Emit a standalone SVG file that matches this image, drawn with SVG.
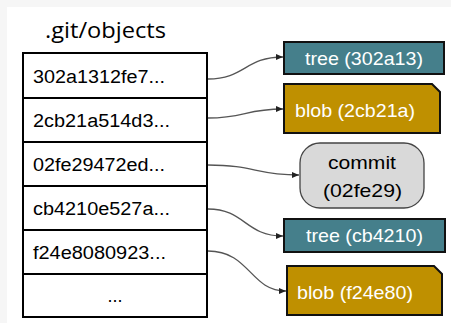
<svg xmlns="http://www.w3.org/2000/svg" width="451" height="323" viewBox="0 0 451 323">
<style>
.t{font-family:"Liberation Sans",Arial,sans-serif;font-size:18px;fill:#000}
.w{font-family:"Liberation Sans",Arial,sans-serif;font-size:19px;fill:#fff}
.k{font-family:"Liberation Sans",Arial,sans-serif;font-size:19px;fill:#000}
.row{fill:#fff;stroke:#000;stroke-width:2}
.tree{fill:#457f8b;stroke:#111;stroke-width:2}
.blob{fill:#bf9000;stroke:#111;stroke-width:2}
.c{fill:none;stroke:#555;stroke-width:1.3;marker-end:url(#a)}
</style>
<defs>
<marker id="a" markerWidth="8" markerHeight="8" refX="7" refY="4" orient="auto" markerUnits="userSpaceOnUse">
<path d="M0,1 L7,4 L0,7 Z" fill="#222"/>
</marker>
</defs>
<rect width="451" height="323" fill="#f6f6f6"/>
<rect x="7" y="7" width="444" height="316" fill="#fff"/>
<g id="title"><text x="45" y="38" textLength="121" lengthAdjust="spacingAndGlyphs" style="font-family:'Open Sans','Liberation Sans',sans-serif;font-size:22px;fill:#000">.git/objects</text></g>
<g id="table">
<rect class="row" x="23" y="53" width="184" height="45"/>
<rect class="row" x="23" y="98" width="184" height="44"/>
<rect class="row" x="23" y="142" width="184" height="44"/>
<rect class="row" x="23" y="186" width="184" height="44"/>
<rect class="row" x="23" y="230" width="184" height="44"/>
<rect class="row" x="23" y="274" width="184" height="43"/>
<text class="t" x="33" y="83" textLength="132" lengthAdjust="spacingAndGlyphs">302a1312fe7...</text>
<text class="t" x="33" y="127" textLength="137" lengthAdjust="spacingAndGlyphs">2cb21a514d3...</text>
<text class="t" x="33" y="171" textLength="132" lengthAdjust="spacingAndGlyphs">02fe29472ed...</text>
<text class="t" x="33" y="215" textLength="137" lengthAdjust="spacingAndGlyphs">cb4210e527a...</text>
<text class="t" x="33" y="259" textLength="133" lengthAdjust="spacingAndGlyphs">f24e8080923...</text>
<text class="t" x="115" y="302" text-anchor="middle">...</text>
</g>
<g id="connectors">
<path class="c" d="M208,79 C245,79 245,57 283,57"/>
<path class="c" d="M208,118 C245,118 245,109 283,109"/>
<path class="c" d="M208,165 C255,165 255,175 299,175"/>
<path class="c" d="M208,209 C245,209 245,236 283,236"/>
<path class="c" d="M208,251 C250,251 250,291 286,291"/>
</g>
<g id="tree302a13"><rect class="tree" x="284" y="42" width="160" height="32"/><text class="w" x="305" y="65" textLength="118" lengthAdjust="spacingAndGlyphs">tree (302a13)</text></g>
<g id="blob2cb21a"><path class="blob" d="M284,84 H432 L440,92 V133 H284 Z"/><text class="w" x="295" y="117" textLength="120" lengthAdjust="spacingAndGlyphs">blob (2cb21a)</text></g>
<g id="commit"><rect x="300" y="143" width="124" height="65" rx="20" fill="#d9d9d9" stroke="#444" stroke-width="1.3"/><text class="k" x="328" y="169" textLength="68" lengthAdjust="spacingAndGlyphs">commit</text><text class="k" x="323" y="197" textLength="79" lengthAdjust="spacingAndGlyphs">(02fe29)</text></g>
<g id="treecb4210"><rect class="tree" x="284" y="219" width="161" height="33"/><text class="w" x="306" y="242" textLength="117" lengthAdjust="spacingAndGlyphs">tree (cb4210)</text></g>
<g id="blobf24e80"><path class="blob" d="M287,266 H434 L442,274 V315 H287 Z"/><text class="w" x="297" y="299" textLength="116" lengthAdjust="spacingAndGlyphs">blob (f24e80)</text></g>
</svg>
